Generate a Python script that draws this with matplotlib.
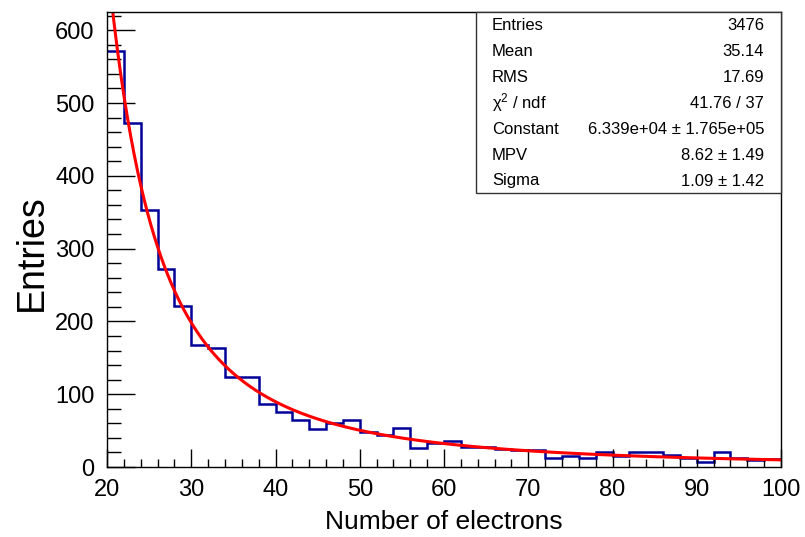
import numpy as np
import matplotlib
matplotlib.use("Agg")
import matplotlib.pyplot as plt
from matplotlib.ticker import MultipleLocator

plt.rcParams['font.family'] = ['Liberation Sans', 'DejaVu Sans']
plt.rcParams['mathtext.fontset'] = 'custom'
plt.rcParams['mathtext.rm'] = 'Liberation Sans'
plt.rcParams['mathtext.it'] = 'Liberation Sans:italic'

# Histogram: number of electrons, 2-electron bins from 20 to 100
bin_edges = np.arange(20, 102, 2)
counts = [571, 472, 353, 272, 221, 167, 163, 124, 124, 87,
          76, 65, 52, 60, 65, 48, 44, 53, 26, 33,
          36, 28, 28, 25, 24, 24, 12, 15, 13, 21,
          15, 20, 21, 16, 13, 7, 21, 13, 10, 11]

# Landau fit parameters
fit_constant = 6.339e4
fit_mpv = 8.62
fit_sigma = 1.09

stats_labels = ["Entries", "Mean", "RMS", "\u03c7$^{2}$ / ndf", "Constant", "MPV", "Sigma"]
stats_values = ["3476", "35.14", "17.69", "41.76 / 37",
                "6.339e+04 \u00b1 1.765e+05", "8.62 \u00b1 1.49", "1.09 \u00b1 1.42"]


def landau_pdf(v):
    """CERNLIB DENLAN approximation of the Landau density (x0=0, xi=1)."""
    v = np.asarray(v, dtype=float)
    out = np.zeros_like(v)
    p4 = [0.9874054407, 118.6723273, 849.2794360, -743.7792444, 427.0262186]
    q4 = [1.0, 106.8615961, 337.6496214, 2016.712389, 1597.063511]
    p5 = [1.003675074, 167.5702434, 4789.711289, 21217.86767, -22324.94910]
    q5 = [1.0, 156.9424537, 3745.310488, 9834.698876, 66924.28357]
    p6 = [1.000827619, 664.9143136, 62972.92665, 475554.6998, -5743609.109]
    q6 = [1.0, 651.4101098, 56974.73333, 165917.4725, -2815759.939]
    p3 = [0.1788544503, 0.09359161662, 0.006325387654, 0.00006611667319, -0.000002031049101]
    q3 = [1.0, 0.6097809921, 0.2560616665, 0.04746722384, 0.006957301675]

    def rat(p, q, t):
        num = p[0] + (p[1] + (p[2] + (p[3] + p[4] * t) * t) * t) * t
        den = q[0] + (q[1] + (q[2] + (q[3] + q[4] * t) * t) * t) * t
        return num / den

    m = (v >= 1) & (v < 5)
    out[m] = rat(p3, q3, v[m])
    for lo, hi, p, q in [(5, 12, p4, q4), (12, 50, p5, q5), (50, 300, p6, q6)]:
        m = (v >= lo) & (v < hi)
        u = 1.0 / v[m]
        out[m] = u * u * rat(p, q, u)
    return out


fig = plt.figure(figsize=(8.05, 5.37), dpi=100)
ax = fig.add_axes([107 / 805, 1 - 467 / 537, 674 / 805, 455 / 537])

ax.stairs(counts, bin_edges, baseline=None, color='#000099', linewidth=1.8)

xf = np.linspace(20, 100, 600)
yf = fit_constant * landau_pdf((xf - fit_mpv) / fit_sigma)
ax.plot(xf, yf, color='#ff0000', linewidth=2.2)

ax.set_xlim(20, 100)
ax.set_ylim(0, 625)

ax.xaxis.set_major_locator(MultipleLocator(10))
ax.xaxis.set_minor_locator(MultipleLocator(2))
ax.yaxis.set_major_locator(MultipleLocator(100))
ax.yaxis.set_minor_locator(MultipleLocator(20))

ax.tick_params(axis='x', which='major', direction='in', length=13, width=1.0,
               labelsize=17, pad=9, top=False)
ax.tick_params(axis='x', which='minor', direction='in', length=6, width=1.0, top=False)
ax.tick_params(axis='y', which='major', direction='in', length=20, width=1.0,
               labelsize=17, pad=9, right=False)
ax.tick_params(axis='y', which='minor', direction='in', length=10, width=1.0, right=False)

for s in ax.spines.values():
    s.set_linewidth(1.0)

ax.set_xlabel("Number of electrons", fontsize=19, labelpad=6)
ax.set_ylabel("Entries", fontsize=27)
ax.yaxis.set_label_coords(-0.085, 0.472)

# Statistics box
bx0, bx1 = 476 / 805, 781 / 805
by1, by0 = 1 - 12 / 537, 1 - 193 / 537
fig.patches.append(plt.Rectangle((bx0, by0), bx1 - bx0, by1 - by0,
                                 transform=fig.transFigure, facecolor='white',
                                 edgecolor='#333333', linewidth=1.0, zorder=5))
row_y = [25, 52, 78, 103, 129, 155, 181]
for lab, val, yp in zip(stats_labels, stats_values, row_y):
    fig.text(492 / 805, 1 - yp / 537, lab, fontsize=12, va='center', ha='left', zorder=6)
    fig.text(764 / 805, 1 - yp / 537, val, fontsize=12, va='center', ha='right', zorder=6)

fig.savefig("out.png", dpi=100)
